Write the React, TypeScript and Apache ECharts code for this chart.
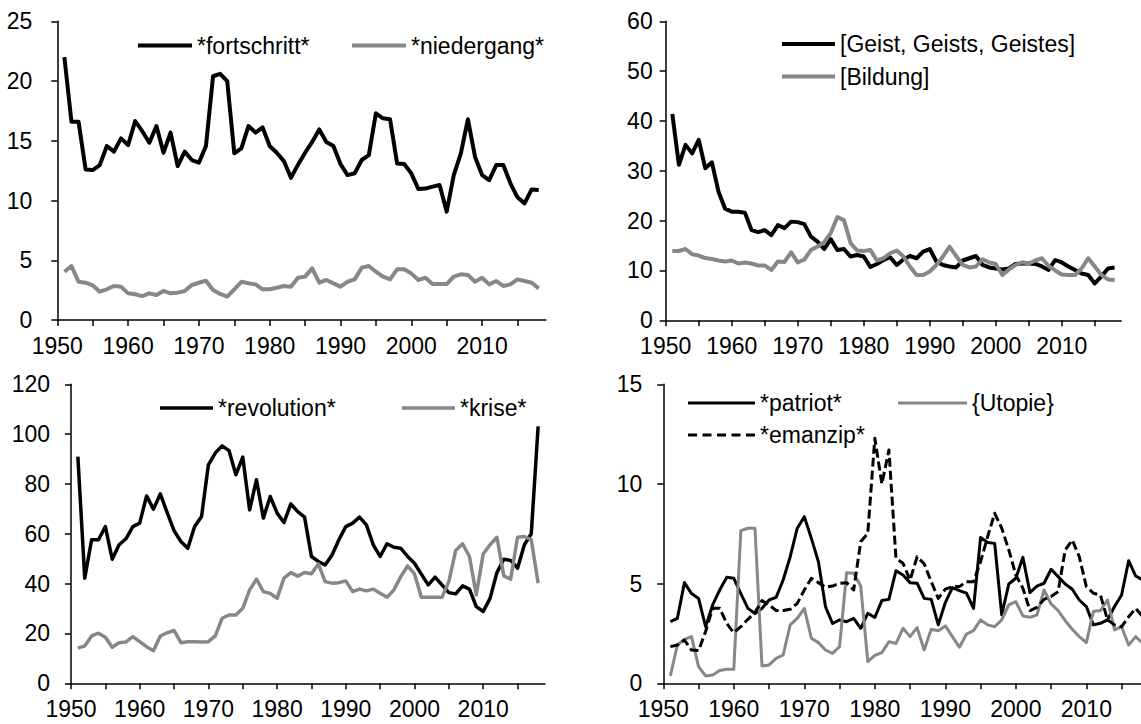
import React, { useEffect, useRef } from "react";
import * as echarts from "echarts";

const YEARS = [
  1951, 1952, 1953, 1954, 1955, 1956, 1957, 1958, 1959, 1960,
  1961, 1962, 1963, 1964, 1965, 1966, 1967, 1968, 1969, 1970,
  1971, 1972, 1973, 1974, 1975, 1976, 1977, 1978, 1979, 1980,
  1981, 1982, 1983, 1984, 1985, 1986, 1987, 1988, 1989, 1990,
  1991, 1992, 1993, 1994, 1995, 1996, 1997, 1998, 1999, 2000,
  2001, 2002, 2003, 2004, 2005, 2006, 2007, 2008, 2009, 2010,
  2011, 2012, 2013, 2014, 2015, 2016, 2017, 2018,
];

const FORTSCHRITT = [
  22.0, 16.6, 16.6, 12.6, 12.55, 12.97, 14.56, 14.09, 15.2, 14.64,
  16.65, 15.8, 14.84, 16.23, 14.0, 15.68, 12.89, 14.09, 13.39, 13.17,
  14.56, 20.4, 20.6, 20.0, 13.95, 14.37, 16.23, 15.68, 16.12, 14.56,
  14.0, 13.3, 11.9, 13.0, 14.0, 14.9, 15.95, 14.9, 14.56, 13.05,
  12.13, 12.27, 13.39, 13.8, 17.3, 16.88, 16.8, 13.1, 13.05, 12.27,
  10.96, 11.0, 11.16, 11.3, 9.07, 12.13, 13.95, 16.8, 13.67, 12.13,
  11.7, 12.97, 12.97, 11.44, 10.27, 9.76, 10.93, 10.88,
];
const NIEDERGANG = [
  4.04, 4.52, 3.2, 3.12, 2.9, 2.37, 2.57, 2.85, 2.79, 2.23,
  2.15, 2.0, 2.23, 2.09, 2.43, 2.23, 2.29, 2.43, 2.93, 3.12,
  3.29, 2.51, 2.18, 1.95, 2.57, 3.2, 3.07, 2.98, 2.57, 2.57,
  2.7, 2.85, 2.79, 3.54, 3.63, 4.32, 3.12, 3.35, 3.07, 2.79,
  3.2, 3.4, 4.38, 4.52, 4.04, 3.63, 3.4, 4.24, 4.24, 3.9,
  3.35, 3.54, 3.01, 3.01, 3.01, 3.63, 3.82, 3.77, 3.2, 3.54,
  2.98, 3.26, 2.85, 2.98, 3.4, 3.26, 3.12, 2.65,
];
const GEIST = [
  41.4, 31.2, 35.2, 33.5, 36.2, 30.5, 31.7, 25.8, 22.4, 21.8,
  21.8, 21.6, 18.1, 17.7, 18.1, 17.1, 19.1, 18.5, 19.8, 19.7,
  19.3, 16.8, 15.8, 14.3, 16.3, 14.1, 14.3, 12.8, 13.1, 12.8,
  10.7, 11.3, 12.1, 12.65, 11.1, 12.2, 12.9, 12.45, 13.8, 14.3,
  11.8, 11.1, 10.8, 10.6, 12.0, 12.45, 12.9, 11.1, 10.6, 10.4,
  10.2, 10.4, 11.3, 11.4, 11.4, 11.3, 10.8, 10.1, 12.1, 11.6,
  10.8, 10.1, 9.4, 9.1, 7.4, 8.8, 10.4, 10.6,
];
const BILDUNG = [
  13.9, 13.9, 14.3, 13.25, 13.0, 12.5, 12.3, 12.0, 11.8, 12.0,
  11.4, 11.6, 11.4, 11.0, 11.0, 10.1, 11.8, 11.7, 13.65, 11.6,
  12.2, 14.1, 14.8, 15.7, 17.5, 20.7, 20.1, 15.5, 14.0, 13.9,
  14.1, 12.0, 12.45, 13.45, 14.0, 12.8, 10.8, 9.1, 9.1, 9.8,
  11.1, 12.8, 14.8, 12.9, 11.1, 10.6, 10.8, 12.25, 11.6, 11.3,
  9.1, 10.2, 11.1, 11.65, 11.4, 12.0, 12.45, 10.9, 10.0, 9.2,
  9.1, 9.1, 10.4, 12.45, 10.8, 9.1, 8.2, 8.1,
];
const REVOLUTION = [
  91.0, 42.2, 57.6, 57.6, 62.9, 49.8, 55.6, 58.0, 62.9, 64.3,
  75.2, 69.9, 76.0, 68.5, 61.3, 56.9, 54.2, 62.9, 66.9, 87.7,
  92.4, 95.3, 93.4, 83.7, 90.8, 69.6, 81.7, 66.3, 75.0, 68.3,
  64.5, 72.0, 68.9, 66.7, 50.9, 48.9, 47.5, 51.5, 57.6, 62.9,
  64.3, 66.7, 63.6, 55.6, 50.9, 56.0, 54.6, 54.2, 50.9, 48.2,
  43.8, 39.5, 42.6, 39.5, 36.4, 35.9, 39.1, 37.8, 30.8, 28.8,
  34.1, 44.4, 49.8, 49.3, 46.2, 55.6, 60.0, 103.1,
];
const KRISE = [
  14.1, 15.0, 19.0, 20.1, 18.5, 14.5, 16.3, 16.6, 18.7, 16.7,
  14.7, 13.1, 19.0, 20.3, 21.2, 16.3, 16.7, 16.7, 16.6, 16.7,
  19.0, 26.1, 27.4, 27.4, 30.1, 37.5, 41.8, 36.8, 36.1, 34.1,
  42.2, 44.4, 43.0, 44.5, 44.0, 47.9, 40.8, 40.2, 40.4, 41.1,
  36.8, 37.8, 37.1, 37.8, 36.1, 34.5, 37.5, 42.8, 47.1, 43.9,
  34.5, 34.5, 34.5, 34.5, 40.8, 53.3, 56.0, 50.9, 35.5, 51.9,
  55.6, 58.6, 43.1, 41.8, 58.6, 58.9, 57.6, 40.2,
];
const PATRIOT = [
  3.09, 3.26, 5.05, 4.5, 4.26, 2.84, 3.93, 4.68, 5.32, 5.27,
  4.5, 3.76, 3.5, 3.76, 4.18, 4.31, 5.18, 6.35, 7.78, 8.36,
  7.27, 6.1, 3.85, 3.0, 3.18, 3.09, 3.26, 2.76, 3.51, 3.3,
  4.15, 4.21, 5.65, 5.43, 5.05, 5.02, 4.26, 4.21, 2.93, 4.05,
  4.8, 4.65, 4.52, 3.76, 7.32, 7.06, 7.02, 3.43, 4.98, 5.27,
  6.32, 4.55, 4.88, 5.02, 5.72, 5.35, 4.98, 4.72, 4.18, 3.85,
  2.93, 3.01, 3.18, 3.85, 4.43, 6.15, 5.38, 5.18,
];
const UTOPIE = [
  0.37, 1.92, 2.2, 2.34, 0.84, 0.37, 0.42, 0.64, 0.7, 0.7,
  7.66, 7.78, 7.78, 0.87, 0.92, 1.25, 1.42, 2.93, 3.26, 3.76,
  2.26, 2.04, 1.67, 1.5, 1.84, 5.55, 5.52, 4.88, 1.09, 1.4,
  1.54, 2.09, 2.0, 2.76, 2.34, 2.79, 1.67, 2.71, 2.64, 2.88,
  2.34, 1.81, 2.47, 2.64, 3.18, 2.93, 2.84, 3.18, 3.93, 4.1,
  3.38, 3.31, 3.43, 4.68, 3.98, 3.65, 3.14, 2.71, 2.34, 2.04,
  3.6, 3.65, 4.18, 2.68, 2.84, 1.92, 2.34, 2.0,
];
const EMANZIP = [
  1.84, 1.92, 2.17, 1.67, 1.64, 2.6, 3.76, 3.76, 3.0, 2.54,
  2.84, 3.21, 3.55, 4.15, 3.93, 3.65, 3.65, 3.71, 4.01, 4.68,
  5.27, 5.05, 4.82, 4.88, 5.02, 5.05, 4.68, 7.1, 7.52, 12.29,
  10.0, 11.7, 6.27, 6.02, 5.18, 6.35, 5.99, 5.1, 4.26, 4.72,
  4.85, 4.85, 5.1, 5.1, 6.1, 7.36, 8.53, 7.78, 6.69, 5.43,
  4.77, 3.65, 3.81, 4.21, 4.35, 4.6, 6.69, 7.19, 6.35, 4.85,
  4.52, 4.43, 3.18, 2.93, 2.84, 3.34, 3.76, 3.34,
];

const X_TICKS = [1950, 1955, 1960, 1965, 1970, 1975, 1980, 1985, 1990, 1995, 2000, 2005, 2010, 2015];
const X_LABELS = [1950, 1960, 1970, 1980, 1990, 2000, 2010];

const FONT = '"Liberation Sans", Arial, Helvetica, sans-serif';
const BLACK = "#000000";
const GRAY = "#878787";
const FS = 23;

const SOLID_ICON = "rect";
const DASH_ICON = "path://M0,0h9v3h-9zM14.5,0h9v3h-9zM29,0h9v3h-9zM43.5,0h9v3h-9zM58,0h9v3h-9z";

type SeriesDef = {
  name: string;
  values: number[];
  color: string;
  dash?: number[];
  legend: { left: number; top: number; w: number };
};

type Panel = {
  grid: { left: number; top: number; width: number; height: number };
  yMax: number;
  yInt: number;
  yMargin: number;
  xMargin: number;
  lw: number;
  series: SeriesDef[];
};

const PANELS: Panel[] = [
  {
    grid: { left: 57.3, top: 21.3, width: 488.5, height: 298.7 },
    yMax: 25, yInt: 5, yMargin: 25, xMargin: 14, lw: 4,
    series: [
      { name: "*fortschritt*", values: FORTSCHRITT, color: BLACK, legend: { left: 138, top: 34, w: 54 } },
      { name: "*niedergang*", values: NIEDERGANG, color: GRAY, legend: { left: 352, top: 34, w: 54 } },
    ],
  },
  {
    grid: { left: 665.7, top: 21.3, width: 455.5, height: 299 },
    yMax: 60, yInt: 10, yMargin: 13, xMargin: 14, lw: 4,
    series: [
      { name: "[Geist, Geists, Geistes]", values: GEIST, color: BLACK, legend: { left: 782, top: 32.5, w: 53 } },
      { name: "[Bildung]", values: BILDUNG, color: GRAY, legend: { left: 782, top: 65, w: 53 } },
    ],
  },
  {
    grid: { left: 71, top: 384.3, width: 474, height: 299 },
    yMax: 120, yInt: 20, yMargin: 21, xMargin: 14, lw: 3.5,
    series: [
      { name: "*revolution*", values: REVOLUTION, color: BLACK, legend: { left: 160, top: 396.5, w: 53 } },
      { name: "*krise*", values: KRISE, color: GRAY, legend: { left: 402, top: 396.5, w: 53 } },
    ],
  },
  {
    grid: { left: 663.3, top: 384.3, width: 486.5, height: 299 },
    yMax: 15, yInt: 5, yMargin: 21, xMargin: 14, lw: 3,
    series: [
      { name: "*patriot*", values: PATRIOT, color: BLACK, legend: { left: 688, top: 391.5, w: 67 } },
      { name: "{Utopie}", values: UTOPIE, color: GRAY, legend: { left: 898, top: 391.5, w: 69 } },
      { name: "*emanzip*", values: EMANZIP, color: BLACK, dash: [9, 4], legend: { left: 688, top: 423.5, w: 67 } },
    ],
  },
];

function buildOption() {
  const grids: any[] = [];
  const xAxes: any[] = [];
  const yAxes: any[] = [];
  const series: any[] = [];
  const legends: any[] = [];
  const axisLineStyle = { color: "#000", width: 1.5 };
  const labelStyle = { fontSize: FS, color: "#000", fontFamily: FONT };

  PANELS.forEach((p, i) => {
    grids.push({ ...p.grid, containLabel: false, outerBoundsMode: "none" });
    xAxes.push({
      type: "value",
      gridIndex: i,
      min: 1950,
      max: 2019,
      splitLine: { show: false },
      axisLine: { show: true, onZero: false, lineStyle: axisLineStyle },
      axisTick: { show: true, customValues: X_TICKS, length: 6, lineStyle: axisLineStyle },
      axisLabel: { ...labelStyle, customValues: X_LABELS, margin: p.xMargin, formatter: (v: number) => String(v) },
    });
    yAxes.push({
      type: "value",
      gridIndex: i,
      min: 0,
      max: p.yMax,
      interval: p.yInt,
      splitLine: { show: false },
      axisLine: { show: true, lineStyle: axisLineStyle },
      axisTick: { show: true, length: 6, lineStyle: axisLineStyle },
      axisLabel: { ...labelStyle, margin: p.yMargin },
    });
    p.series.forEach((s) => {
      series.push({
        type: "line",
        name: s.name,
        xAxisIndex: i,
        yAxisIndex: i,
        data: YEARS.map((y, k) => [y, s.values[k]]),
        symbol: "none",
        showSymbol: false,
        color: s.color,
        lineStyle: { color: s.color, width: p.lw, type: s.dash ? s.dash : "solid", join: "round" },
        itemStyle: { color: s.color },
        emphasis: { disabled: true },
      });
      legends.push({
        data: [{ name: s.name, icon: s.dash ? DASH_ICON : SOLID_ICON }],
        left: s.legend.left,
        top: s.legend.top,
        itemWidth: s.legend.w,
        itemHeight: p.lw,
        padding: 0,
        selectedMode: false,
        itemStyle: { color: s.color, borderWidth: 0 },
        lineStyle: { width: 0 },
        textStyle: labelStyle,
      });
    });
  });

  return {
    animation: false,
    backgroundColor: "#ffffff",
    textStyle: { fontFamily: FONT },
    grid: grids,
    xAxis: xAxes,
    yAxis: yAxes,
    legend: legends,
    series,
  };
}

export default function App() {
  const ref = useRef<HTMLDivElement>(null);
  useEffect(() => {
    if (!ref.current) return;
    const chart = echarts.init(ref.current, undefined, { renderer: "svg" });
    chart.setOption(buildOption() as any);
    return () => chart.dispose();
  }, []);
  return (
    <div
      ref={ref}
      style={{ position: "absolute", left: 0, top: 0, width: 1141, height: 724, background: "#fff" }}
    />
  );
}
